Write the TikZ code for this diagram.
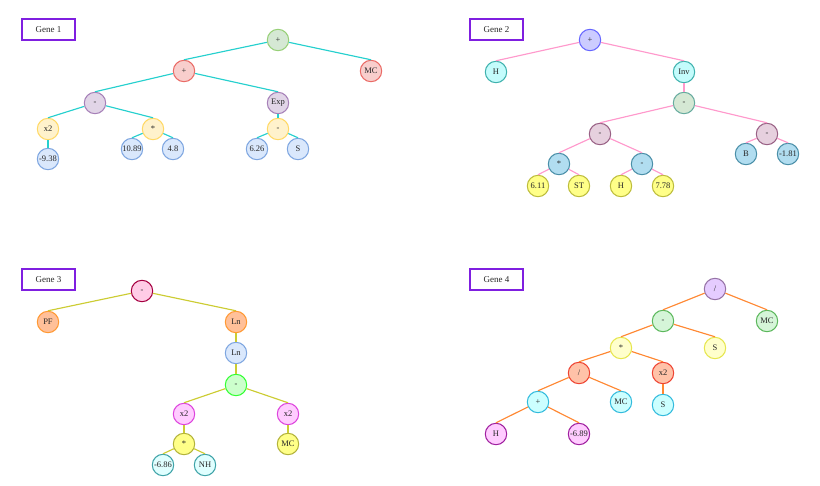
\documentclass[tikz,border=0pt]{standalone}
\usepackage{fontspec}
\setmainfont{Liberation Serif}
\definecolor{txt}{HTML}{262626}
% gene 1
\definecolor{gAf}{HTML}{D5E8D4}\definecolor{gAd}{HTML}{97D077}
\definecolor{rAf}{HTML}{F8CECC}\definecolor{rAd}{HTML}{EA6B66}
\definecolor{pAf}{HTML}{E1D5E7}\definecolor{pAd}{HTML}{A680B8}
\definecolor{yAf}{HTML}{FFF2CC}\definecolor{yAd}{HTML}{FFD966}
\definecolor{bAf}{HTML}{DAE8FC}\definecolor{bAd}{HTML}{7EA6E0}
\definecolor{eA}{HTML}{26D0CE}
% gene 2
\definecolor{vBf}{HTML}{CCCCFF}\definecolor{vBd}{HTML}{6666FF}
\definecolor{cBf}{HTML}{C4FCFC}\definecolor{cBd}{HTML}{3FB2AE}
\definecolor{gBf}{HTML}{D5E8D4}\definecolor{gBd}{HTML}{67AB9F}
\definecolor{mBf}{HTML}{E6D0DE}\definecolor{mBd}{HTML}{996185}
\definecolor{lBf}{HTML}{B1DDF0}\definecolor{lBd}{HTML}{4A8FA8}
\definecolor{yBf}{HTML}{FFFF88}\definecolor{yBd}{HTML}{BDBD3C}
\definecolor{eB}{HTML}{FF99CC}
% gene 3
\definecolor{pCf}{HTML}{FFCCE6}\definecolor{pCd}{HTML}{A50040}
\definecolor{oCf}{HTML}{FFC099}\definecolor{oCd}{HTML}{FF9933}
\definecolor{bCf}{HTML}{DAE8FC}\definecolor{bCd}{HTML}{7EA6E0}
\definecolor{gCf}{HTML}{CCFFCC}\definecolor{gCd}{HTML}{33FF33}
\definecolor{mCf}{HTML}{FFCCFF}\definecolor{mCd}{HTML}{DD44DD}
\definecolor{yCf}{HTML}{FFFF88}\definecolor{yCd}{HTML}{B3B33B}
\definecolor{cCf}{HTML}{E0FFFF}\definecolor{cCd}{HTML}{3FA3A8}
\definecolor{eC}{HTML}{CCCC33}
% gene 4
\definecolor{vDf}{HTML}{E5CCFF}\definecolor{vDd}{HTML}{9673A6}
\definecolor{gDf}{HTML}{D5F5D8}\definecolor{gDd}{HTML}{5CB85C}
\definecolor{yDf}{HTML}{FFFFCC}\definecolor{yDd}{HTML}{E6E64D}
\definecolor{rDf}{HTML}{FFC2A8}\definecolor{rDd}{HTML}{EE4433}
\definecolor{cDf}{HTML}{CCFFFF}\definecolor{cDd}{HTML}{33BBDD}
\definecolor{mDf}{HTML}{FFCCFF}\definecolor{mDd}{HTML}{A020A0}
\definecolor{eD}{HTML}{FF8833}
\definecolor{lab}{HTML}{7F1FE0}
\tikzset{
  gn/.style 2 args={circle, minimum size=21.4pt, inner sep=0pt, line width=1.05pt,
    fill=#1, draw=#2, text=txt, font=\fontsize{8.5}{9}\selectfont},
  genelabel/.style={draw=lab, line width=1.3pt, minimum width=53pt, minimum height=21pt,
    inner sep=0pt, text=txt, font=\fontsize{9}{10}\selectfont},
  edge/.style={line width=1.15pt, draw=#1},
}
\begin{document}
\begin{tikzpicture}[x=1pt,y=-1pt]
\useasboundingbox (0,0) rectangle (820,486);
% ---------------- Gene 1
\node[genelabel] (L1) at (48.5,29.5) {Gene 1};
\node[gn={gAf}{gAd}] (a1) at (278,40) {+};
\node[gn={rAf}{rAd}] (b1) at (184,71) {+};
\node[gn={rAf}{rAd}] (c1) at (371,71) {MC};
\node[gn={pAf}{pAd}] (d1) at (95,103) {-};
\node[gn={pAf}{pAd}] (e1) at (278,103) {Exp};
\node[gn={yAf}{yAd}] (f1) at (48,129) {x2};
\node[gn={yAf}{yAd}] (g1) at (153,129) {*};
\node[gn={yAf}{yAd}] (h1) at (278,129) {-};
\node[gn={bAf}{bAd}] (i1) at (48,159) {-9.38};
\node[gn={bAf}{bAd}] (j1) at (132,149) {10.89};
\node[gn={bAf}{bAd}] (k1) at (173,149) {4.8};
\node[gn={bAf}{bAd}] (l1) at (257,149) {6.26};
\node[gn={bAf}{bAd}] (m1) at (298,149) {S};
\foreach \p/\c in {a1/b1,a1/c1,b1/d1,b1/e1,d1/f1,d1/g1,e1/h1,f1/i1,g1/j1,g1/k1,h1/l1,h1/m1}
  \draw[edge=eA] (\p) -- (\c.north);
% ---------------- Gene 2
\node[genelabel] (L2) at (496.5,29.5) {Gene 2};
\node[gn={vBf}{vBd}] (a2) at (590,40) {+};
\node[gn={cBf}{cBd}] (b2) at (496,72) {H};
\node[gn={cBf}{cBd}] (c2) at (684,72) {Inv};
\node[gn={gBf}{gBd}] (d2) at (684,103) {-};
\node[gn={mBf}{mBd}] (e2) at (600,134) {-};
\node[gn={mBf}{mBd}] (f2) at (767,134) {-};
\node[gn={lBf}{lBd}] (g2) at (559,164) {*};
\node[gn={lBf}{lBd}] (h2) at (642,164) {-};
\node[gn={lBf}{lBd}] (i2) at (746,154) {B};
\node[gn={lBf}{lBd}] (j2) at (788,154) {-1.81};
\node[gn={yBf}{yBd}] (k2) at (538,186) {6.11};
\node[gn={yBf}{yBd}] (l2) at (579,186) {ST};
\node[gn={yBf}{yBd}] (m2) at (621,186) {H};
\node[gn={yBf}{yBd}] (n2) at (663,186) {7.78};
\foreach \p/\c in {a2/b2,a2/c2,c2/d2,d2/e2,d2/f2,e2/g2,e2/h2,f2/i2,f2/j2,g2/k2,g2/l2,h2/m2,h2/n2}
  \draw[edge=eB] (\p) -- (\c.north);
% ---------------- Gene 3
\node[genelabel] (L3) at (48.5,279.5) {Gene 3};
\node[gn={pCf}{pCd}] (a3) at (142,291) {-};
\node[gn={oCf}{oCd}] (b3) at (48,322) {PF};
\node[gn={oCf}{oCd}] (c3) at (236,322) {Ln};
\node[gn={bCf}{bCd}] (d3) at (236,353) {Ln};
\node[gn={gCf}{gCd}] (e3) at (236,385) {-};
\node[gn={mCf}{mCd}] (f3) at (184,414) {x2};
\node[gn={mCf}{mCd}] (g3) at (288,414) {x2};
\node[gn={yCf}{yCd}] (h3) at (184,444) {*};
\node[gn={yCf}{yCd}] (i3) at (288,444) {MC};
\node[gn={cCf}{cCd}] (j3) at (163,465) {-6.86};
\node[gn={cCf}{cCd}] (k3) at (205,465) {NH};
\foreach \p/\c in {a3/b3,a3/c3,c3/d3,d3/e3,e3/f3,e3/g3,f3/h3,g3/i3,h3/j3,h3/k3}
  \draw[edge=eC] (\p) -- (\c.north);
% ---------------- Gene 4
\node[genelabel] (L4) at (496.5,279.5) {Gene 4};
\node[gn={vDf}{vDd}] (a4) at (715,289) {/};
\node[gn={gDf}{gDd}] (b4) at (663,321) {-};
\node[gn={gDf}{gDd}] (c4) at (767,321) {MC};
\node[gn={yDf}{yDd}] (d4) at (621,348) {*};
\node[gn={yDf}{yDd}] (e4) at (715,348) {S};
\node[gn={rDf}{rDd}] (f4) at (579,373) {/};
\node[gn={rDf}{rDd}] (g4) at (663,373) {x2};
\node[gn={cDf}{cDd}] (h4) at (538,402) {+};
\node[gn={cDf}{cDd}] (i4) at (621,402) {MC};
\node[gn={cDf}{cDd}] (j4) at (663,405) {S};
\node[gn={mDf}{mDd}] (k4) at (496,434) {H};
\node[gn={mDf}{mDd}] (l4) at (579,434) {-6.89};
\foreach \p/\c in {a4/b4,a4/c4,b4/d4,b4/e4,d4/f4,d4/g4,f4/h4,f4/i4,g4/j4,h4/k4,h4/l4}
  \draw[edge=eD] (\p) -- (\c.north);
\end{tikzpicture}
\end{document}
